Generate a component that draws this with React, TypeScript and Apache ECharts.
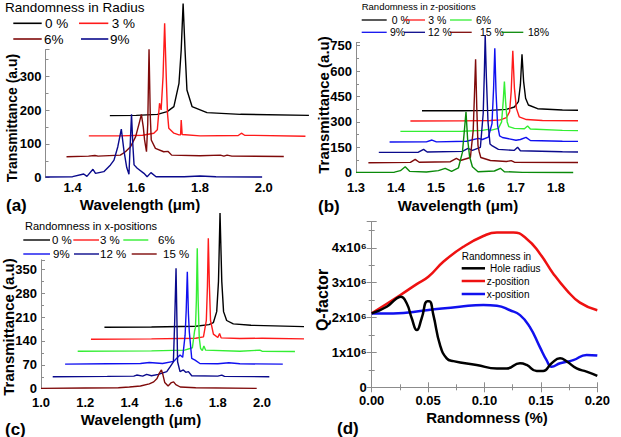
import React, { useEffect, useRef } from "react";
import * as echarts from "echarts";

// ---------- Panel (a): randomness in radius ----------
const aR0: number[][] = [[1.517,184],[1.6,185],[1.666,188],[1.697,196],[1.718,211],[1.734,280],[1.741,379],[1.747,517],[1.753,379],[1.759,260],[1.775,211],[1.822,193],[1.927,188],[2.142,185]];
const aR3: number[][] = [[1.451,124],[1.55,124],[1.62,126],[1.655,132],[1.666,142],[1.673,221],[1.678,201],[1.684,300],[1.689,458],[1.694,300],[1.698,190],[1.702,147],[1.718,132],[1.734,127],[1.739,127],[1.741,171],[1.744,128],[1.8,124],[1.92,125],[1.93,132],[1.94,126],[2.131,123]];
const aR6: number[][] = [[1.381,62],[1.45,64],[1.47,66],[1.48,64],[1.55,67],[1.566,77],[1.582,92],[1.598,122],[1.61,165],[1.616,188],[1.622,150],[1.626,112],[1.632,77],[1.636,160],[1.64,381],[1.644,180],[1.647,112],[1.66,87],[1.686,77],[1.7,78],[1.711,67],[1.8,65],[1.864,67],[1.875,64],[1.885,67],[1.9,64],[2.063,63]];
const aR9: number[][] = [[1.315,2],[1.4,3],[1.435,11],[1.445,4],[1.464,25],[1.472,13],[1.498,18],[1.519,38],[1.53,52],[1.542,92],[1.553,144],[1.561,82],[1.57,30],[1.577,10],[1.581,100],[1.585,188],[1.589,100],[1.593,38],[1.603,28],[1.624,13],[1.634,3],[1.646,15],[1.662,3],[1.75,3],[1.8,5],[1.85,3],[1.995,2]];
const aTicks = [1.4, 1.6, 1.8, 2.0];

// ---------- Panel (b): randomness in z-positions ----------
const bZ0: number[][] = [[1.465,366],[1.566,366],[1.636,368],[1.676,374],[1.696,388],[1.706,420],[1.711,520],[1.715,699],[1.719,540],[1.724,440],[1.731,400],[1.754,378],[1.816,370],[1.99,366]];
const bZ3: number[][] = [[1.436,305],[1.566,306],[1.636,308],[1.661,312],[1.676,325],[1.684,360],[1.688,480],[1.692,721],[1.696,500],[1.701,380],[1.708,330],[1.726,314],[1.766,308],[1.98,305]];
const bZ6: number[][] = [[1.411,244],[1.566,245],[1.616,250],[1.63,256],[1.636,250],[1.656,262],[1.664,300],[1.668,420],[1.671,538],[1.674,420],[1.678,300],[1.682,272],[1.696,262],[1.721,260],[1.729,276],[1.736,258],[1.816,250],[1.948,246]];
const bZ9: number[][] = [[1.384,181],[1.476,182],[1.49,193],[1.501,182],[1.576,186],[1.606,203],[1.616,196],[1.631,210],[1.64,290],[1.644,500],[1.647,735],[1.65,480],[1.654,280],[1.659,217],[1.666,208],[1.7,192],[1.711,196],[1.725,209],[1.736,190],[1.816,186],[1.896,184],[1.906,190],[1.921,183]];
const bZ12: number[][] = [[1.357,120],[1.456,121],[1.469,138],[1.478,122],[1.566,126],[1.58,144],[1.591,132],[1.611,150],[1.618,350],[1.621,600],[1.623,813],[1.626,560],[1.63,300],[1.635,170],[1.641,158],[1.656,138],[1.696,132],[1.704,150],[1.711,130],[1.816,124],[1.895,121]];
const bZ15: number[][] = [[1.331,59],[1.436,61],[1.448,79],[1.458,62],[1.536,65],[1.551,85],[1.561,72],[1.586,90],[1.593,250],[1.596,450],[1.599,670],[1.602,380],[1.605,160],[1.608,124],[1.612,90],[1.636,72],[1.676,66],[1.688,71],[1.696,62],[1.868,60]];
const bZ18: number[][] = [[1.3,2],[1.396,3],[1.411,12],[1.423,35],[1.434,8],[1.476,4],[1.506,12],[1.523,26],[1.539,8],[1.556,28],[1.566,120],[1.571,250],[1.575,360],[1.579,200],[1.584,94],[1.591,35],[1.605,6],[1.646,10],[1.661,26],[1.671,6],[1.716,2],[1.843,1]];
const bTicks = [1.3, 1.4, 1.5, 1.6, 1.7, 1.8];

// ---------- Panel (c): randomness in x-positions ----------
const cX0: number[][] = [[1.287,180],[1.5,181],[1.7,183],[1.76,188],[1.78,194],[1.795,226],[1.803,314],[1.81,515],[1.818,314],[1.826,226],[1.84,200],[1.87,190],[1.95,186],[2.19,182]];
const cX3: number[][] = [[1.226,145],[1.5,146],[1.7,148],[1.735,152],[1.748,200],[1.753,300],[1.757,441],[1.762,300],[1.767,200],[1.78,160],[1.8,150],[1.808,162],[1.815,149],[1.9,147],[2.0,148],[2.19,146]];
const cX6: number[][] = [[1.166,110],[1.5,111],[1.65,113],[1.685,120],[1.695,170],[1.699,180],[1.703,260],[1.707,412],[1.711,260],[1.716,150],[1.722,118],[1.73,112],[1.737,125],[1.745,113],[1.9,110],[1.99,113],[2.0,110],[2.149,109]];
const cX9: number[][] = [[1.109,72],[1.3,73],[1.45,74],[1.49,77],[1.55,74],[1.6,80],[1.614,89],[1.629,99],[1.641,92],[1.652,157],[1.657,230],[1.662,343],[1.667,220],[1.671,167],[1.682,89],[1.697,84],[1.719,74],[1.8,73],[1.85,76],[1.9,73],[2.094,72]];
const cX12: number[][] = [[1.053,35],[1.3,36],[1.42,37],[1.433,40],[1.46,37],[1.478,42],[1.5,38],[1.531,42],[1.569,50],[1.584,64],[1.599,79],[1.605,200],[1.611,353],[1.615,200],[1.618,79],[1.629,50],[1.644,55],[1.655,48],[1.667,50],[1.682,38],[1.8,37],[1.818,40],[1.83,36],[2.033,35]];
const cX15: number[][] = [[1.0,1],[1.2,2],[1.35,3],[1.4,5],[1.45,8],[1.49,14],[1.51,20],[1.525,30],[1.535,45],[1.545,55],[1.552,40],[1.56,18],[1.575,8],[1.59,18],[1.6,20],[1.61,12],[1.63,5],[1.7,3],[1.976,1]];
const cTicks = [1.0, 1.2, 1.4, 1.6, 1.8, 2.0];

// ---------- Panel (d): Q-factor vs randomness (x10^6) ----------
const qHole: number[][] = [[0,2.12],[0.0133,2.31],[0.022,2.55],[0.0257,2.6],[0.031,2.41],[0.0355,1.98],[0.04,1.64],[0.0443,1.98],[0.0493,2.47],[0.0511,2.47],[0.0547,2.07],[0.0606,1.21],[0.0665,0.83],[0.0724,0.75],[0.093,0.64],[0.111,0.54],[0.1197,0.54],[0.1315,0.69],[0.1374,0.64],[0.1463,0.47],[0.152,0.47],[0.1595,0.69],[0.167,0.83],[0.173,0.74],[0.1817,0.54],[0.1905,0.45],[0.2,0.33]];
const qZ: number[][] = [[0,2.12],[0.0251,2.64],[0.0399,2.96],[0.0502,3.17],[0.0635,3.6],[0.0812,4.03],[0.099,4.34],[0.111,4.44],[0.1256,4.44],[0.137,4.27],[0.149,3.84],[0.161,3.26],[0.1728,2.79],[0.1846,2.43],[0.2,2.21]];
const qX: number[][] = [[0,2.12],[0.019,2.12],[0.0487,2.21],[0.078,2.31],[0.099,2.36],[0.111,2.34],[0.1226,2.21],[0.1315,2.07],[0.14,1.74],[0.149,1.16],[0.155,0.78],[0.1595,0.59],[0.167,0.69],[0.1787,0.78],[0.1905,0.93],[0.2,0.91]];

const FONT = '"Liberation Sans", Arial, Helvetica, sans-serif';
const GRAY = "#8c8c8c";
const C = {
  black: "#000000",
  red: "#ff1a1a",
  maroon: "#7f0a0a",
  navy: "#0a0a8c",
  blue: "#1010f0",
  lime: "#33ee33",
  green: "#0a8a0a",
};

function line(data: number[][], color: string, idx: number, width = 1.4, yIdx?: number, smooth = false) {
  return {
    type: "line",
    data,
    xAxisIndex: idx,
    yAxisIndex: yIdx === undefined ? idx : yIdx,
    showSymbol: false,
    symbol: "none",
    clip: false,
    smooth,
    lineStyle: { color, width },
    itemStyle: { color },
    z: 3,
  };
}

function txt(text: string, x: number, y: number, size: number, opts: any = {}) {
  return {
    type: "text",
    x,
    y,
    rotation: opts.rotation || 0,
    z: 10,
    style: {
      text,
      fill: "#000",
      font: `${opts.bold ? "bold " : ""}${size}px ${FONT}`,
      textAlign: opts.align || "left",
      textVerticalAlign: "middle",
    },
  };
}

function seg(x1: number, x2: number, y: number, color: string, w = 1.6) {
  return { type: "line", z: 10, shape: { x1, y1: y, x2, y2: y }, style: { stroke: color, lineWidth: w } };
}

function yAxisSpec(grid: number, max: number, interval: number) {
  return {
    type: "value",
    gridIndex: grid,
    min: 0,
    max,
    interval,
    splitLine: { show: false },
    axisLine: { show: true, lineStyle: { color: GRAY, width: 1 } },
    axisTick: { show: true, inside: true, length: 4, lineStyle: { color: GRAY } },
    minorTick: { show: true, splitNumber: 2, length: 3, lineStyle: { color: GRAY } },
    axisLabel: {
      margin: 4,
      fontFamily: FONT,
      fontWeight: "bold",
      fontSize: 13,
      color: "#000",
      formatter: (v: number) => (Math.abs(v / interval - Math.round(v / interval)) < 1e-6 ? String(v) : ""),
    },
  };
}

function xAxisSpec(grid: number, min: number, max: number, ticks: number[], margin: number) {
  return {
    type: "value",
    gridIndex: grid,
    min,
    max,
    splitLine: { show: false },
    axisLine: { show: false },
    axisTick: { show: false },
    axisLabel: {
      customValues: ticks,
      margin,
      fontFamily: FONT,
      fontWeight: "bold",
      fontSize: 13,
      color: "#000",
      formatter: (v: number) => v.toFixed(1),
    },
  };
}

export default function App() {
  const ref = useRef<HTMLDivElement>(null);
  useEffect(() => {
    if (!ref.current) return;
    const chart = echarts.init(ref.current, null, { renderer: "svg" });
    const dFrameAxis = {
      axisLine: { show: true, lineStyle: { color: GRAY, width: 1 } },
      axisTick: { show: true, inside: true, length: 5, lineStyle: { color: GRAY } },
      minorTick: { show: true, splitNumber: 2, length: 3, lineStyle: { color: GRAY } },
      splitLine: { show: false },
    };
    const option: any = {
      animation: false,
      backgroundColor: "#ffffff",
      grid: [
        { left: 45.5, top: 49.6, width: 266, height: 128.1 },
        { left: 356, top: 42.7, width: 220, height: 130 },
        { left: 41, top: 259.8, width: 260.8, height: 128.9 },
        { left: 371.7, top: 221.7, width: 225.6, height: 165.6 },
      ],
      xAxis: [
        xAxisSpec(0, 1.315, 2.15, aTicks, 3),
        xAxisSpec(1, 1.3, 1.85, bTicks, 8),
        xAxisSpec(2, 1.0, 2.18, cTicks, 7),
        {
          type: "value", gridIndex: 3, min: 0, max: 0.2, interval: 0.05, position: "bottom",
          ...dFrameAxis,
          axisLabel: { margin: 7, fontFamily: FONT, fontWeight: "bold", fontSize: 13, color: "#000", formatter: (v: number) => v.toFixed(2) },
        },
        {
          type: "value", gridIndex: 3, min: 0, max: 0.2, interval: 0.05, position: "top",
          ...dFrameAxis, axisLabel: { show: false },
        },
      ],
      yAxis: [
        yAxisSpec(0, 380, 100),
        yAxisSpec(1, 768, 150),
        yAxisSpec(2, 378, 70),
        {
          type: "value", gridIndex: 3, min: 0, max: 4.75, interval: 1, position: "left",
          ...dFrameAxis,
          axisLabel: {
            margin: 5, fontFamily: FONT, fontWeight: "bold", fontSize: 13, color: "#000",
            formatter: (v: number) => (Number.isInteger(v) ? (v === 0 ? "0" : `${v}x10⁶`) : ""),
          },
        },
        {
          type: "value", gridIndex: 3, min: 0, max: 4.75, interval: 1, position: "right",
          ...dFrameAxis, axisLabel: { show: false },
        },
      ],
      series: [
        line(aR0, C.black, 0), line(aR3, C.red, 0), line(aR6, C.maroon, 0), line(aR9, C.navy, 0),
        line(bZ0, C.black, 1), line(bZ3, C.red, 1), line(bZ6, C.lime, 1), line(bZ9, C.blue, 1),
        line(bZ12, C.navy, 1), line(bZ15, C.maroon, 1), line(bZ18, C.green, 1),
        line(cX0, C.black, 2), line(cX3, C.red, 2), line(cX6, C.lime, 2), line(cX9, C.blue, 2),
        line(cX12, C.navy, 2), line(cX15, C.maroon, 2),
        line(qZ, "#ee1111", 3, 2.5, 3, true), line(qX, "#1111ee", 3, 2.5, 3, true), line(qHole, C.black, 3, 2.5, 3, true),
      ],
      graphic: [
        // panel (a) legend
        txt("Randomness in Radius", 5, 7.5, 13.5),
        seg(13.3, 41.7, 23.3, C.black), txt("0 %", 45, 23.3, 13.5),
        seg(79, 108.3, 23.3, C.red), txt("3 %", 111.7, 23.3, 13.5),
        seg(13.3, 41.7, 39, C.maroon), txt("6%", 44, 39, 13.5),
        seg(81, 108.3, 39, C.navy), txt("9%", 110, 39, 13.5),
        txt("(a)", 6, 205, 17, { bold: true }),
        txt("Wavelength (μm)", 140, 204, 15, { bold: true, align: "center" }),
        txt("Transmittance (a.u)", 12, 118, 14, { bold: true, align: "center", rotation: Math.PI / 2 }),
        // panel (b) legend
        txt("Randomness in z-positions", 361.7, 6.7, 9.5),
        seg(361.7, 386.7, 20, C.black, 1.3), txt("0 %", 391.7, 20, 10.5),
        seg(404, 425, 20, C.red, 1.3), txt("3 %", 428.3, 20, 10.5),
        seg(450, 471.7, 20, C.lime, 1.3), txt("6%", 476, 20, 10.5),
        seg(361.7, 386.7, 32.3, C.blue, 1.3), txt("9%", 390, 32.3, 10.5),
        seg(404, 425, 32.3, C.navy, 1.3), txt("12 %", 428, 32.3, 10.5),
        seg(450, 471.7, 32.3, C.maroon, 1.3), txt("15 %", 480, 32.3, 10.5),
        seg(501.7, 523.3, 32.3, C.green, 1.3), txt("18%", 528, 32.3, 10.5),
        txt("(b)", 318, 206, 17, { bold: true }),
        txt("Wavelength (μm)", 458, 205, 15, { bold: true, align: "center" }),
        txt("Transmittance (a.u)", 323, 105, 15, { bold: true, align: "center", rotation: Math.PI / 2 }),
        // panel (c) legend
        txt("Randomness in x-positions", 25, 226, 11),
        seg(23.3, 50, 240, C.black, 1.4), txt("0 %", 52, 240, 11.5),
        seg(73.3, 99, 240, C.red, 1.4), txt("3 %", 100, 240, 11.5),
        seg(123.3, 148.3, 240, C.lime, 1.4), txt("6%", 158, 240, 11.5),
        seg(23.3, 50, 254, C.blue, 1.4), txt("9%", 53, 254, 11.5),
        seg(74, 99, 254, C.navy, 1.4), txt("12 %", 100, 254, 11.5),
        seg(131.7, 156.7, 254, C.maroon, 1.4), txt("15 %", 163, 254, 11.5),
        txt("(c)", 5, 429, 17, { bold: true }),
        txt("Wavelength (μm)", 141, 419, 15, { bold: true, align: "center" }),
        txt("Transmittance (a.u)", 8, 327, 15, { bold: true, align: "center", rotation: Math.PI / 2 }),
        // panel (d) legend
        txt("Randomness in", 461.7, 256.7, 10),
        seg(461.7, 485, 268.3, C.black, 2.5), txt("Hole radius", 490, 268.3, 10),
        seg(461.7, 485, 281, "#ee1111", 2.5), txt("z-position", 486.7, 281, 10),
        seg(461.7, 485, 294, "#1111ee", 2.5), txt("x-position", 486.7, 294, 10),
        txt("(d)", 337, 428, 17, { bold: true }),
        txt("Randomness (%)", 487, 417, 15, { bold: true, align: "center" }),
        txt("Q-factor", 322, 300, 16, { bold: true, align: "center", rotation: Math.PI / 2 }),
      ],
    };
    chart.setOption(option);
    return () => chart.dispose();
  }, []);
  return <div ref={ref} style={{ position: "fixed", left: 0, top: 0, width: 621, height: 437, background: "#fff" }} />;
}
